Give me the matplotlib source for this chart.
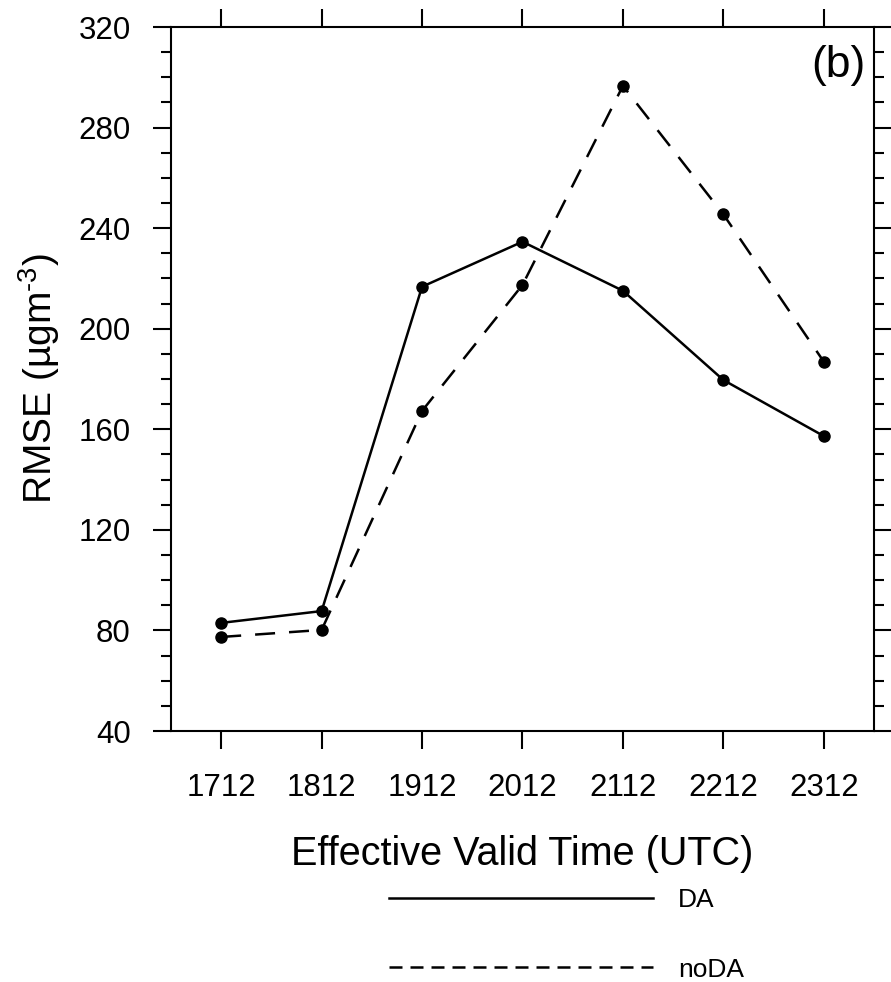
import matplotlib.pyplot as plt
from matplotlib.lines import Line2D
from matplotlib.ticker import MultipleLocator

plt.rcParams['font.family'] = ['Liberation Sans', 'DejaVu Sans']
plt.rcParams['mathtext.fontset'] = 'custom'
plt.rcParams['mathtext.rm'] = 'Liberation Sans'

# data
times = ["1712", "1812", "1912", "2012", "2112", "2212", "2312"]
rmse_da = [83.0, 87.7, 216.7, 234.6, 215.1, 179.6, 157.3]
rmse_noda = [77.4, 80.2, 167.3, 217.4, 296.6, 245.5, 186.9]

fig = plt.figure(figsize=(8.91, 9.82), dpi=100)
ax = fig.add_axes([0.1919, 0.2556, 0.789, 0.7169])

x = list(range(len(times)))
ax.plot(x, rmse_da, color='black', lw=1.8, marker='o', ms=8)
ax.plot(x, rmse_noda, color='black', lw=1.8, ls=(0, (8, 5.6)),
        marker='o', ms=8)

ax.set_xlim(-0.5, 6.5)
ax.set_ylim(40, 320)
ax.set_xticks(x)
ax.set_xticklabels(times)
ax.yaxis.set_major_locator(MultipleLocator(40))
ax.yaxis.set_minor_locator(MultipleLocator(10))

for s in ax.spines.values():
    s.set_linewidth(1.5)

ax.tick_params(which='both', direction='out', top=True, right=True,
               labelsize=22.5, width=1.5)
ax.tick_params(which='major', length=13)
ax.tick_params(which='minor', length=7)
ax.tick_params(axis='x', pad=17)
ax.tick_params(axis='y', pad=16)

ax.set_xlabel("Effective Valid Time (UTC)", fontsize=28.5, labelpad=23)
ax.set_ylabel(r"RMSE (µgm$^{\text{-3}}$)", fontsize=28, labelpad=12)

ax.text(0.988, 0.975, "(b)", transform=ax.transAxes, ha='right', va='top',
        fontsize=32)

# legend below the plot
handles = [Line2D([], [], color='black', lw=1.8),
           Line2D([], [], color='black', lw=1.8, ls=(0, (5.2, 3.2)))]
fig.legend(handles, ["DA", "noDA"], loc='upper left',
           bbox_to_anchor=(0.437, 0.0955), frameon=False, fontsize=19,
           handlelength=10, handletextpad=0.95, labelspacing=1.72,
           borderpad=0, borderaxespad=0)

fig.savefig("out.png", dpi=100)
